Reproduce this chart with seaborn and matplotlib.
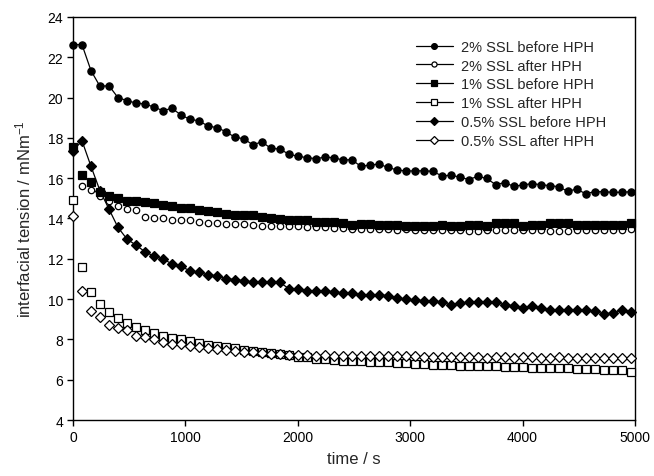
import numpy as np
import pandas as pd
import matplotlib
matplotlib.use("Agg")
import matplotlib.pyplot as plt
from matplotlib.lines import Line2D
import seaborn as sns

# sampling times (s)
time_s = [0, 80, 160, 240, 320, 400, 480, 560, 640, 720,
          800, 880, 960, 1040, 1120, 1200, 1280, 1360, 1440, 1520,
          1600, 1680, 1760, 1840, 1920, 2000, 2080, 2160, 2240, 2320,
          2400, 2480, 2560, 2640, 2720, 2800, 2880, 2960, 3040, 3120,
          3200, 3280, 3360, 3440, 3520, 3600, 3680, 3760, 3840, 3920,
          4000, 4080, 4160, 4240, 4320, 4400, 4480, 4560, 4640, 4720,
          4800, 4880, 4960]

# interfacial tension (mN/m)
ssl2_before = [22.63, 22.63, 21.34, 20.56, 20.59, 20.00, 19.85, 19.73, 19.68, 19.53,
               19.35, 19.47, 19.14, 18.92, 18.85, 18.59, 18.51, 18.31, 18.03, 17.96,
               17.65, 17.81, 17.48, 17.45, 17.19, 17.09, 17.02, 16.97, 17.04, 17.02,
               16.90, 16.92, 16.59, 16.65, 16.70, 16.54, 16.41, 16.36, 16.36, 16.37,
               16.34, 16.12, 16.14, 16.06, 15.93, 16.09, 15.99, 15.68, 15.78, 15.60,
               15.66, 15.73, 15.68, 15.63, 15.58, 15.35, 15.46, 15.23, 15.33, 15.33,
               15.30, 15.30, 15.33]
ssl2_after = [17.50, 15.60, 15.41, 15.13, 14.88, 14.61, 14.47, 14.44, 14.06, 14.02,
              14.01, 13.94, 13.94, 13.93, 13.82, 13.78, 13.78, 13.73, 13.73, 13.73,
              13.69, 13.64, 13.61, 13.64, 13.61, 13.61, 13.56, 13.56, 13.56, 13.53,
              13.53, 13.48, 13.48, 13.48, 13.48, 13.48, 13.44, 13.48, 13.44, 13.44,
              13.42, 13.42, 13.44, 13.42, 13.40, 13.40, 13.42, 13.44, 13.42, 13.42,
              13.44, 13.42, 13.42, 13.40, 13.38, 13.38, 13.42, 13.42, 13.42, 13.44,
              13.42, 13.44, 13.46]
ssl1_before = [17.55, 16.17, 15.80, 15.33, 15.12, 15.02, 14.88, 14.88, 14.80, 14.75,
               14.69, 14.62, 14.54, 14.53, 14.42, 14.36, 14.31, 14.20, 14.15, 14.16,
               14.15, 14.06, 14.00, 13.96, 13.94, 13.92, 13.92, 13.85, 13.82, 13.81,
               13.76, 13.69, 13.73, 13.73, 13.69, 13.69, 13.69, 13.64, 13.64, 13.64,
               13.64, 13.69, 13.64, 13.64, 13.69, 13.69, 13.64, 13.78, 13.80, 13.80,
               13.64, 13.69, 13.66, 13.78, 13.80, 13.78, 13.69, 13.66, 13.66, 13.66,
               13.69, 13.66, 13.80]
ssl1_after = [14.92, 11.60, 10.34, 9.78, 9.34, 9.05, 8.80, 8.63, 8.45, 8.30,
              8.16, 8.08, 8.00, 7.92, 7.80, 7.72, 7.67, 7.62, 7.56, 7.47,
              7.42, 7.36, 7.32, 7.26, 7.21, 7.15, 7.11, 7.05, 7.04, 7.00,
              6.95, 6.94, 6.91, 6.87, 6.86, 6.86, 6.83, 6.83, 6.78, 6.76,
              6.74, 6.74, 6.72, 6.70, 6.70, 6.68, 6.66, 6.66, 6.64, 6.64,
              6.62, 6.60, 6.60, 6.58, 6.58, 6.56, 6.55, 6.54, 6.52, 6.50,
              6.48, 6.46, 6.40]
ssl05_before = [17.35, 17.86, 16.59, 15.38, 14.47, 13.56, 12.98, 12.68, 12.35, 12.13,
                11.99, 11.75, 11.62, 11.41, 11.33, 11.20, 11.16, 11.01, 10.97, 10.91,
                10.84, 10.83, 10.83, 10.83, 10.52, 10.52, 10.42, 10.39, 10.39, 10.37,
                10.29, 10.29, 10.22, 10.22, 10.22, 10.17, 10.05, 10.00, 9.96, 9.92,
                9.89, 9.84, 9.72, 9.81, 9.84, 9.84, 9.87, 9.84, 9.72, 9.67,
                9.56, 9.67, 9.54, 9.47, 9.47, 9.47, 9.47, 9.46, 9.41, 9.26,
                9.31, 9.47, 9.37]
ssl05_after = [14.14, 10.40, 9.42, 9.10, 8.73, 8.56, 8.45, 8.18, 8.12, 8.02,
               7.89, 7.79, 7.79, 7.69, 7.64, 7.58, 7.54, 7.48, 7.40, 7.38,
               7.36, 7.34, 7.30, 7.27, 7.25, 7.22, 7.21, 7.20, 7.21, 7.18,
               7.17, 7.18, 7.19, 7.17, 7.18, 7.18, 7.18, 7.18, 7.16, 7.14,
               7.12, 7.12, 7.12, 7.14, 7.12, 7.12, 7.10, 7.12, 7.12, 7.10,
               7.12, 7.12, 7.10, 7.10, 7.12, 7.10, 7.10, 7.10, 7.10, 7.08,
               7.10, 7.08, 7.08]

labels = ["2% SSL before HPH", "2% SSL after HPH", "1% SSL before HPH",
          "1% SSL after HPH", "0.5% SSL before HPH", "0.5% SSL after HPH"]
values = [ssl2_before, ssl2_after, ssl1_before, ssl1_after, ssl05_before, ssl05_after]

# marker, face colour, marker size, line width
styles = [("o", "black", 5.2, 0.9),
          ("o", "white", 4.6, 0.0),
          ("s", "black", 5.2, 0.0),
          ("s", "white", 5.2, 0.0),
          ("D", "black", 4.8, 0.9),
          ("D", "white", 4.8, 0.0)]

sns.set_style("ticks")
plt.rcParams["font.family"] = ["Liberation Sans", "DejaVu Sans"]
plt.rcParams["mathtext.fontset"] = "custom"
plt.rcParams["mathtext.rm"] = "Liberation Sans"
plt.rcParams["mathtext.it"] = "Liberation Sans"

fig = plt.figure(figsize=(6.54, 4.77), dpi=100)
ax = fig.add_axes([0.1116, 0.1174, 0.8594, 0.8449])

handles = []
for lab, vals, (m, fc, ms, lw) in zip(labels, values, styles):
    df = pd.DataFrame({"time": time_s, "tension": vals})
    sns.lineplot(data=df, x="time", y="tension", ax=ax, color="black",
                 linewidth=lw, marker=m, markersize=ms, markerfacecolor=fc,
                 markeredgecolor="black", markeredgewidth=0.9, legend=False,
                 clip_on=False, zorder=3)
    handles.append(Line2D([], [], color="black", linewidth=0.9, marker=m,
                          markersize=ms * 0.8, markerfacecolor=fc,
                          markeredgecolor="black", markeredgewidth=0.9))

ax.set_xlim(0, 5000)
ax.set_ylim(4, 24)
ax.set_xticks([0, 1000, 2000, 3000, 4000, 5000])
ax.set_yticks([4, 6, 8, 10, 12, 14, 16, 18, 20, 22, 24])
ax.tick_params(direction="out", length=4, width=1, labelsize=10, colors="black", pad=3)
for sp in ax.spines.values():
    sp.set_visible(True)
    sp.set_color("black")
    sp.set_linewidth(1)

ax.set_xlabel("time / s", fontsize=12, labelpad=5)
ax.set_ylabel("interfacial tension / mNm$^{-1}$", fontsize=12, labelpad=10)

ax.legend(handles, labels, loc="upper right", frameon=False, fontsize=10.5,
          handlelength=2.5, handletextpad=0.6, labelspacing=0.33,
          bbox_to_anchor=(0.96, 0.958), borderaxespad=0)

fig.savefig("out.png", dpi=100)
